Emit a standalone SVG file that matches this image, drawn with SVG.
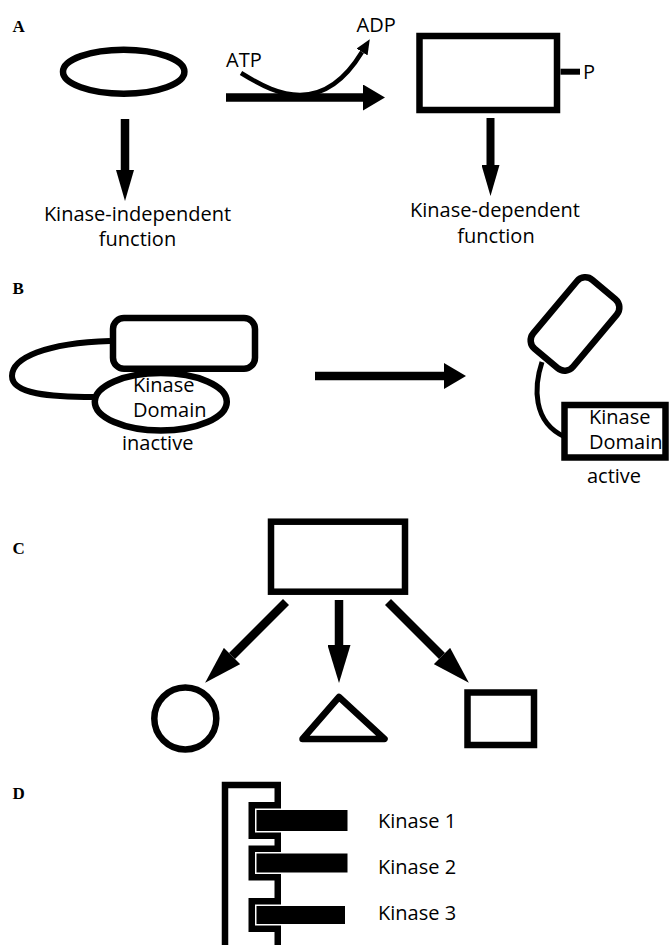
<svg xmlns="http://www.w3.org/2000/svg" width="670" height="945" viewBox="0 0 670 945">
<defs>
<style>
.t{font-family:"Open Sans","DejaVu Sans",sans-serif;font-size:20px;fill:#000}
.sec{font-family:"Liberation Serif",serif;font-weight:bold;font-size:17px;fill:#000}
.sh{fill:#fff;stroke:#000;stroke-width:6.5}
.ln{fill:none;stroke:#000}
.bar{fill:#000}
</style>
<marker id="hA" markerUnits="userSpaceOnUse" markerWidth="22" markerHeight="26" refX="0" refY="13" orient="auto"><path d="M0,0 L22,13 L0,26 z" fill="#000"/></marker>
<marker id="hV" markerUnits="userSpaceOnUse" markerWidth="31" markerHeight="18" refX="0" refY="9" orient="auto"><path d="M0,0 L31,9 L0,18 z" fill="#000"/></marker>
<marker id="hC" markerUnits="userSpaceOnUse" markerWidth="38" markerHeight="23" refX="0" refY="11.5" orient="auto"><path d="M0,0 L38,11.5 L0,23 z" fill="#000"/></marker>
<marker id="hS" markerUnits="userSpaceOnUse" markerWidth="15" markerHeight="13" refX="0" refY="6.5" orient="auto"><path d="M0,0 L15,6.5 L0,13 z" fill="#000"/></marker>
</defs>
<rect width="670" height="945" fill="#fff"/>

<g id="section-labels">
<text class="sec" x="12.5" y="31.5">A</text>
<text class="sec" x="12.5" y="294">B</text>
<text class="sec" x="12.5" y="554">C</text>
<text class="sec" x="12.5" y="799">D</text>
</g>

<g id="connectors">
<line class="ln" x1="226" y1="97.5" x2="363" y2="97.5" stroke-width="8.5" marker-end="url(#hA)"/>
<path class="ln" d="M241,73 C262,86 280,95 300,95 C325,95 345,80 362,52" stroke-width="4.5" marker-end="url(#hS)"/>
<line class="ln" x1="125" y1="119" x2="125" y2="170" stroke-width="8.5" marker-end="url(#hV)"/>
<line class="ln" x1="490.5" y1="118" x2="490.5" y2="165" stroke-width="8" marker-end="url(#hV)"/>
<line class="ln" x1="560.5" y1="71.7" x2="580" y2="71.7" stroke-width="6"/>
<line class="ln" x1="315" y1="376" x2="444" y2="376" stroke-width="8.5" marker-end="url(#hA)"/>
<path class="ln" d="M110,341 C45,343 12,358 12,376 C12,394 50,397 94,397" stroke-width="6"/>
<path class="ln" d="M542,362 C534,386 532,422 565,437" stroke-width="5"/>
<line class="ln" x1="286" y1="602" x2="232" y2="656" stroke-width="8.5" marker-end="url(#hC)"/>
<line class="ln" x1="339" y1="600" x2="339" y2="645" stroke-width="8.5" marker-end="url(#hC)"/>
<line class="ln" x1="388" y1="602" x2="442" y2="656" stroke-width="8.5" marker-end="url(#hC)"/>
</g>

<g id="A-unphosphorylated">
<ellipse class="sh" cx="123.7" cy="71.7" rx="60.7" ry="22" stroke-width="6"/>
</g>
<g id="A-phosphorylated">
<rect class="sh" x="419.5" y="36" width="137.5" height="74" stroke-width="7"/>
</g>
<g id="A-labels">
<text class="t" x="226" y="67" font-size="19">ATP</text>
<text class="t" x="356.5" y="31.5" font-size="19">ADP</text>
<text class="t" x="583" y="79">P</text>
<text class="t" text-anchor="middle"><tspan x="137.5" y="221">Kinase-independent</tspan><tspan x="137.5" y="246">function</tspan></text>
<text class="t" text-anchor="middle"><tspan x="495" y="217">Kinase-dependent</tspan><tspan x="496" y="243">function</tspan></text>
</g>

<g id="B-inactive">
<rect class="sh" x="113" y="318" width="142" height="50.7" rx="11" stroke-width="6"/>
<ellipse class="sh" cx="160.8" cy="401.7" rx="66" ry="28.7" stroke-width="6"/>
<text class="t" font-size="17"><tspan x="133" y="391.5">Kinase</tspan><tspan x="133" y="417">Domain</tspan></text>
<text class="t" x="157.7" y="450" text-anchor="middle">inactive</text>
</g>

<g id="B-active">
<rect class="sh" x="-45" y="-26" width="90" height="52" rx="11" stroke-width="6" transform="translate(575,324) rotate(-50)"/>
<rect class="sh" x="564.5" y="405" width="101" height="52.5" stroke-width="7"/>
<text class="t" font-size="15"><tspan x="589" y="424">Kinase</tspan><tspan x="589" y="448.5">Domain</tspan></text>
<text class="t" x="614" y="483" text-anchor="middle">active</text>
</g>

<g id="C-parent">
<rect class="sh" x="271" y="521.7" width="134" height="70" stroke-width="7"/>
</g>
<g id="C-circle">
<circle class="sh" cx="185.3" cy="718.5" r="31" stroke-width="6"/>
</g>
<g id="C-triangle">
<path class="sh" d="M339,697 L384.5,739 L302.5,739 Z" stroke-width="7" stroke-linejoin="round"/>
</g>
<g id="C-square">
<rect class="sh" x="467.5" y="692.5" width="66.5" height="52.5" stroke-width="6.5"/>
</g>

<g id="D-scaffold">
<path d="M225,950 V785 H277.75 V805.25 H251.75 V835.75 H277.75 V848.75 H251.75 V877.25 H277.75 V901.25 H251.75 V928.75 H277.75 V950" fill="#fff" stroke="#000" stroke-width="6.5"/>
</g>
<g id="D-kinase1">
<rect class="bar" x="256.5" y="810" width="91" height="21"/>
<text class="t" x="378" y="828" font-size="19.5">Kinase 1</text>
</g>
<g id="D-kinase2">
<rect class="bar" x="256.5" y="853.5" width="91" height="19"/>
<text class="t" x="378" y="874" font-size="19.5">Kinase 2</text>
</g>
<g id="D-kinase3">
<rect class="bar" x="256.5" y="906" width="88.5" height="18"/>
<text class="t" x="378" y="920" font-size="19.5">Kinase 3</text>
</g>
</svg>
